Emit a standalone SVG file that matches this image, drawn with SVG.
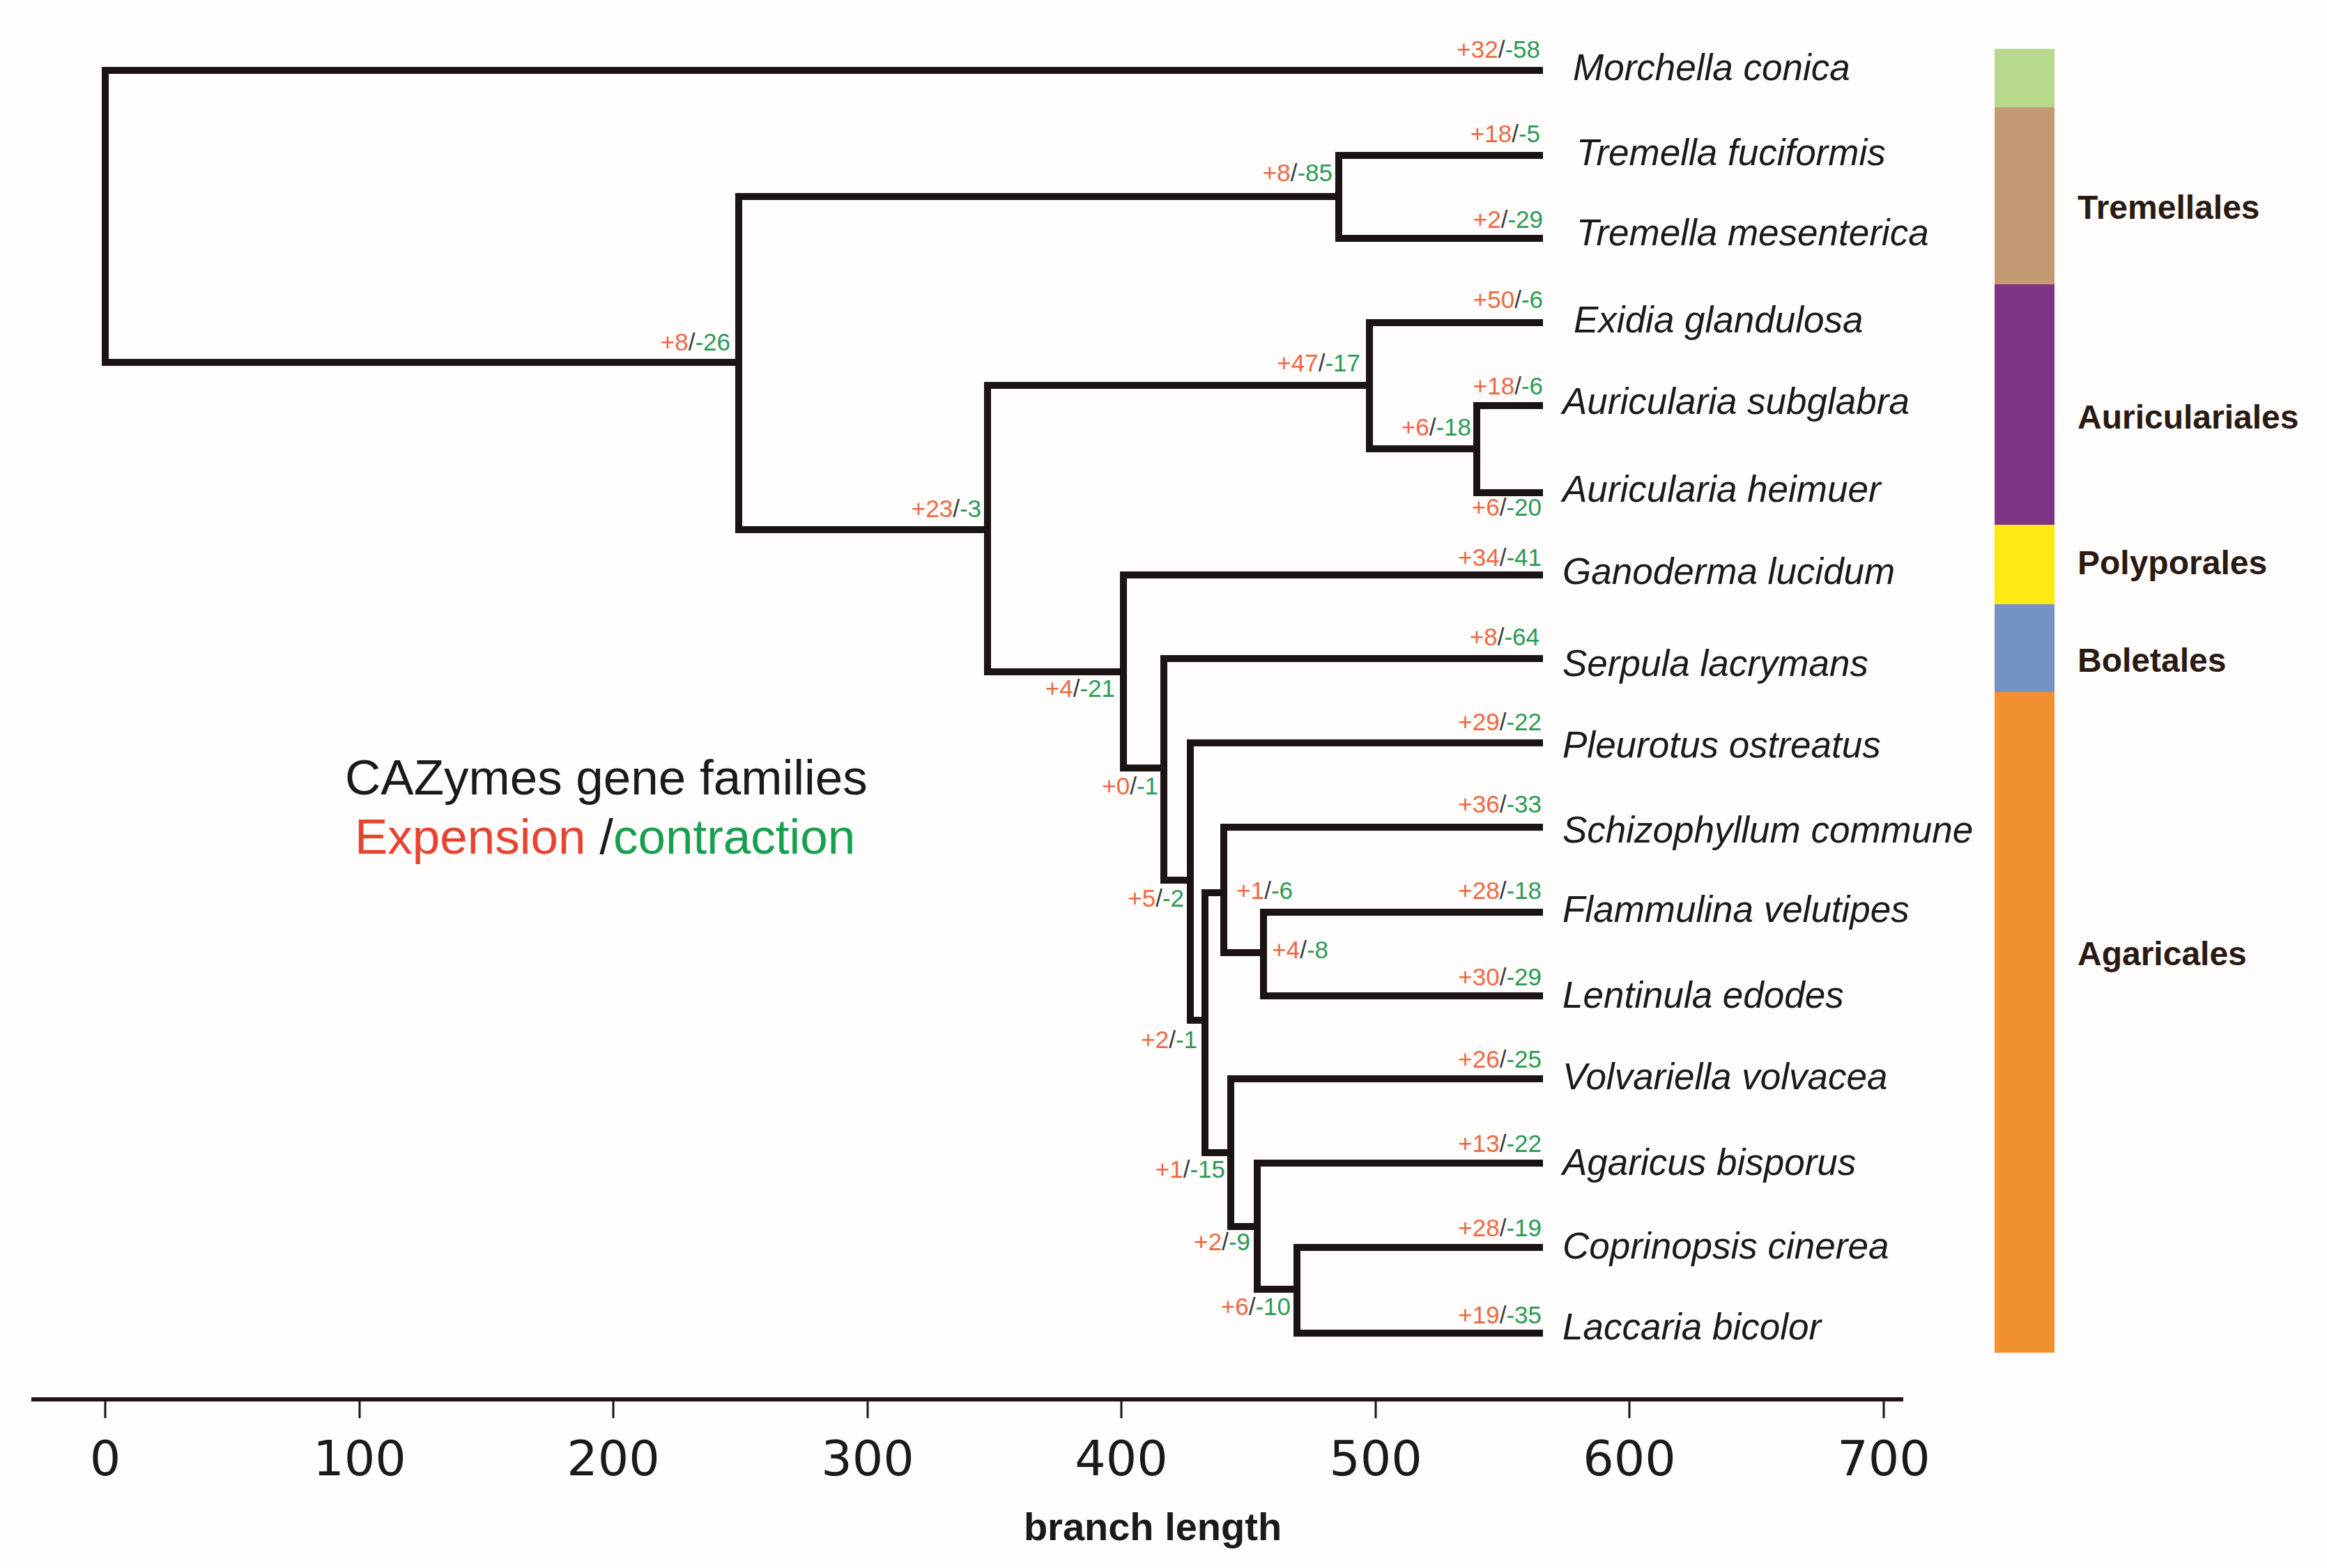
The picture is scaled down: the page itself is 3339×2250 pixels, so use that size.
<svg xmlns="http://www.w3.org/2000/svg" width="3339" height="2250" viewBox="0 0 3339 2250">
<style>
.br{fill:none;stroke:#1c1412;stroke-width:10;stroke-linejoin:miter}
.leaf{font-family:"Liberation Sans",Arial,sans-serif;font-style:italic;font-size:53px;fill:#1a1a1a}
.nl{font-family:"Liberation Sans",Arial,sans-serif;font-size:35px;text-anchor:end}
.p{fill:#ee6843}
.s{fill:#3a3a3a}
.m{fill:#2a9a55}
.clade{font-family:"Liberation Sans",Arial,sans-serif;font-weight:bold;font-size:48px;fill:#2a1a12}
.tick{font-family:"DejaVu Sans",sans-serif;font-size:70px;fill:#1a1a1a;text-anchor:middle}
.leg{font-family:"Liberation Sans",Arial,sans-serif;font-size:71px}
</style>
<rect width="3339" height="2250" fill="#fefdfc"/>
<g id="connectors">
<path class="br" d="M2214,101 H151 V520 H1060"/>
<path class="br" d="M1921,282 H1060 V760 H1417"/>
<path class="br" d="M2214,223 H1921 V342 H2214"/>
<path class="br" d="M1965,553 H1417 V964 H1612"/>
<path class="br" d="M2214,463 H1965 V644 H2119"/>
<path class="br" d="M2214,582 H2119 V707 H2214"/>
<path class="br" d="M2214,825 H1612 V1102 H1670"/>
<path class="br" d="M2214,945 H1670 V1263 H1708"/>
<path class="br" d="M2214,1066 H1708 V1464 H1729"/>
<path class="br" d="M1756,1281 H1729 V1654 H1766"/>
<path class="br" d="M2214,1187 H1756 V1367 H1813"/>
<path class="br" d="M2214,1309 H1813 V1429 H2214"/>
<path class="br" d="M2214,1548 H1766 V1760 H1804"/>
<path class="br" d="M2214,1669 H1804 V1850 H1861"/>
<path class="br" d="M2214,1790 H1861 V1913 H2214"/>
</g>
<g id="leaves">
<g id="leaf-morchella"><text class="leaf" x="2257" y="115">Morchella conica</text><text class="nl" x="2210" y="83"><tspan class="p">+32</tspan><tspan class="s">/</tspan><tspan class="m">-58</tspan></text></g>
<g id="leaf-tfuc"><text class="leaf" x="2262" y="237">Tremella fuciformis</text><text class="nl" x="2210" y="204"><tspan class="p">+18</tspan><tspan class="s">/</tspan><tspan class="m">-5</tspan></text></g>
<g id="leaf-tmes"><text class="leaf" x="2262" y="352">Tremella mesenterica</text><text class="nl" x="2214" y="327"><tspan class="p">+2</tspan><tspan class="s">/</tspan><tspan class="m">-29</tspan></text></g>
<g id="leaf-exidia"><text class="leaf" x="2258" y="477">Exidia glandulosa</text><text class="nl" x="2214" y="442"><tspan class="p">+50</tspan><tspan class="s">/</tspan><tspan class="m">-6</tspan></text></g>
<g id="leaf-asub"><text class="leaf" x="2242" y="594">Auricularia subglabra</text><text class="nl" x="2214" y="566"><tspan class="p">+18</tspan><tspan class="s">/</tspan><tspan class="m">-6</tspan></text></g>
<g id="leaf-ahei"><text class="leaf" x="2242" y="720">Auricularia heimuer</text><text class="nl" x="2212" y="740"><tspan class="p">+6</tspan><tspan class="s">/</tspan><tspan class="m">-20</tspan></text></g>
<g id="leaf-gano"><text class="leaf" x="2242" y="838">Ganoderma lucidum</text><text class="nl" x="2212" y="812"><tspan class="p">+34</tspan><tspan class="s">/</tspan><tspan class="m">-41</tspan></text></g>
<g id="leaf-serp"><text class="leaf" x="2242" y="970">Serpula lacrymans</text><text class="nl" x="2209" y="926"><tspan class="p">+8</tspan><tspan class="s">/</tspan><tspan class="m">-64</tspan></text></g>
<g id="leaf-pleu"><text class="leaf" x="2242" y="1087">Pleurotus ostreatus</text><text class="nl" x="2212" y="1048"><tspan class="p">+29</tspan><tspan class="s">/</tspan><tspan class="m">-22</tspan></text></g>
<g id="leaf-schi"><text class="leaf" x="2242" y="1209">Schizophyllum commune</text><text class="nl" x="2212" y="1166"><tspan class="p">+36</tspan><tspan class="s">/</tspan><tspan class="m">-33</tspan></text></g>
<g id="leaf-flam"><text class="leaf" x="2242" y="1323">Flammulina velutipes</text><text class="nl" x="2212" y="1290"><tspan class="p">+28</tspan><tspan class="s">/</tspan><tspan class="m">-18</tspan></text></g>
<g id="leaf-lent"><text class="leaf" x="2242" y="1446">Lentinula edodes</text><text class="nl" x="2212" y="1414"><tspan class="p">+30</tspan><tspan class="s">/</tspan><tspan class="m">-29</tspan></text></g>
<g id="leaf-volv"><text class="leaf" x="2242" y="1563">Volvariella volvacea</text><text class="nl" x="2212" y="1532"><tspan class="p">+26</tspan><tspan class="s">/</tspan><tspan class="m">-25</tspan></text></g>
<g id="leaf-agar"><text class="leaf" x="2242" y="1686">Agaricus bisporus</text><text class="nl" x="2212" y="1653"><tspan class="p">+13</tspan><tspan class="s">/</tspan><tspan class="m">-22</tspan></text></g>
<g id="leaf-copr"><text class="leaf" x="2242" y="1806">Coprinopsis cinerea</text><text class="nl" x="2212" y="1774"><tspan class="p">+28</tspan><tspan class="s">/</tspan><tspan class="m">-19</tspan></text></g>
<g id="leaf-lacc"><text class="leaf" x="2242" y="1922">Laccaria bicolor</text><text class="nl" x="2212" y="1899"><tspan class="p">+19</tspan><tspan class="s">/</tspan><tspan class="m">-35</tspan></text></g>
</g>
<g id="internal-nodes">
<g id="n1"><text class="nl" x="1048" y="503"><tspan class="p">+8</tspan><tspan class="s">/</tspan><tspan class="m">-26</tspan></text></g>
<g id="n2"><text class="nl" x="1912" y="260"><tspan class="p">+8</tspan><tspan class="s">/</tspan><tspan class="m">-85</tspan></text></g>
<g id="n3"><text class="nl" x="1408" y="742"><tspan class="p">+23</tspan><tspan class="s">/</tspan><tspan class="m">-3</tspan></text></g>
<g id="n4"><text class="nl" x="1952" y="533"><tspan class="p">+47</tspan><tspan class="s">/</tspan><tspan class="m">-17</tspan></text></g>
<g id="n5"><text class="nl" x="2111" y="625"><tspan class="p">+6</tspan><tspan class="s">/</tspan><tspan class="m">-18</tspan></text></g>
<g id="n6"><text class="nl" x="1600" y="1000"><tspan class="p">+4</tspan><tspan class="s">/</tspan><tspan class="m">-21</tspan></text></g>
<g id="n7"><text class="nl" x="1662" y="1140"><tspan class="p">+0</tspan><tspan class="s">/</tspan><tspan class="m">-1</tspan></text></g>
<g id="n8"><text class="nl" x="1699" y="1301"><tspan class="p">+5</tspan><tspan class="s">/</tspan><tspan class="m">-2</tspan></text></g>
<g id="n9"><text class="nl" x="1855" y="1290"><tspan class="p">+1</tspan><tspan class="s">/</tspan><tspan class="m">-6</tspan></text></g>
<g id="n10"><text class="nl" x="1906" y="1375"><tspan class="p">+4</tspan><tspan class="s">/</tspan><tspan class="m">-8</tspan></text></g>
<g id="n11"><text class="nl" x="1718" y="1504"><tspan class="p">+2</tspan><tspan class="s">/</tspan><tspan class="m">-1</tspan></text></g>
<g id="n12"><text class="nl" x="1758" y="1690"><tspan class="p">+1</tspan><tspan class="s">/</tspan><tspan class="m">-15</tspan></text></g>
<g id="n13"><text class="nl" x="1794" y="1794"><tspan class="p">+2</tspan><tspan class="s">/</tspan><tspan class="m">-9</tspan></text></g>
<g id="n14"><text class="nl" x="1852" y="1887"><tspan class="p">+6</tspan><tspan class="s">/</tspan><tspan class="m">-10</tspan></text></g>
</g>
<g id="clade-bar">
<rect x="2862" y="70" width="86" height="84" fill="#b7d98b"/>
<rect x="2862" y="154" width="86" height="254" fill="#c49a74"/>
<rect x="2862" y="408" width="86" height="345" fill="#7d3585"/>
<rect x="2862" y="753" width="86" height="114" fill="#fcea12"/>
<rect x="2862" y="867" width="86" height="126" fill="#7592c4"/>
<rect x="2862" y="993" width="86" height="948" fill="#f0902e"/>
<text class="clade" x="2981" y="314">Tremellales</text>
<text class="clade" x="2981" y="615">Auriculariales</text>
<text class="clade" x="2981" y="824">Polyporales</text>
<text class="clade" x="2981" y="964">Boletales</text>
<text class="clade" x="2981" y="1385">Agaricales</text>
</g>
<g id="legend">
<text class="leg" x="495" y="1140" fill="#1a1a1a">CAZymes gene families</text>
<text class="leg" x="509" y="1225"><tspan fill="#e8432f">Expension</tspan><tspan fill="#1a1a1a"> /</tspan><tspan fill="#17a04f">contraction</tspan></text>
</g>
<g id="axis">
<line x1="45" y1="2008" x2="2731" y2="2008" stroke="#1c1412" stroke-width="6"/>
<g stroke="#1c1412" stroke-width="3">
<line x1="151" y1="2008" x2="151" y2="2035"/>
<line x1="516" y1="2008" x2="516" y2="2035"/>
<line x1="880" y1="2008" x2="880" y2="2035"/>
<line x1="1245" y1="2008" x2="1245" y2="2035"/>
<line x1="1609" y1="2008" x2="1609" y2="2035"/>
<line x1="1974" y1="2008" x2="1974" y2="2035"/>
<line x1="2338" y1="2008" x2="2338" y2="2035"/>
<line x1="2703" y1="2008" x2="2703" y2="2035"/>
</g>
<text class="tick" x="151" y="2117">0</text>
<text class="tick" x="516" y="2117">100</text>
<text class="tick" x="880" y="2117">200</text>
<text class="tick" x="1245" y="2117">300</text>
<text class="tick" x="1609" y="2117">400</text>
<text class="tick" x="1974" y="2117">500</text>
<text class="tick" x="2338" y="2117">600</text>
<text class="tick" x="2703" y="2117">700</text>
<text x="1654" y="2210" font-family="Liberation Sans, Arial, sans-serif" font-weight="bold" font-size="56" fill="#1a1a1a" text-anchor="middle">branch length</text>
</g>
</svg>
